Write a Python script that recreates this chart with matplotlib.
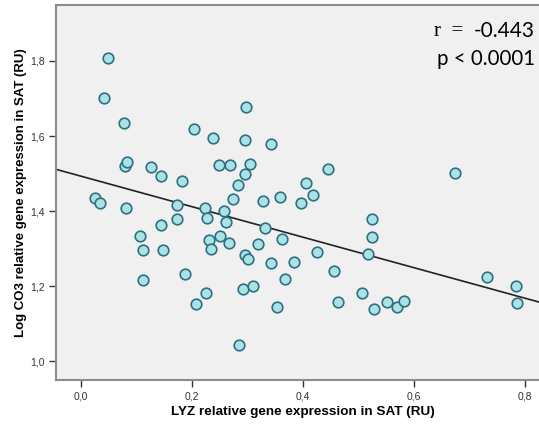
import numpy as np
import matplotlib.pyplot as plt
from matplotlib.ticker import FuncFormatter

# LYZ relative gene expression (x) and Log CO3 relative gene expression (y)
lyz = [0.049, 0.041, 0.078, 0.204, 0.239, 0.297, 0.295, 0.343, 0.079, 0.083,
       0.126, 0.145, 0.183, 0.249, 0.269, 0.305, 0.296, 0.283, 0.275, 0.328,
       0.026, 0.445, 0.406, 0.418, 0.359, 0.397, 0.674, 0.035, 0.081, 0.173,
       0.224, 0.258, 0.227, 0.262, 0.173, 0.144, 0.107, 0.251, 0.267, 0.231,
       0.234, 0.112, 0.148, 0.332, 0.363, 0.319, 0.426, 0.525, 0.525, 0.518,
       0.295, 0.302, 0.343, 0.384, 0.457, 0.368, 0.293, 0.310, 0.353, 0.463,
       0.507, 0.551, 0.528, 0.570, 0.583, 0.732, 0.785, 0.786, 0.112, 0.188,
       0.226, 0.207, 0.285]
co3 = [1.809, 1.700, 1.634, 1.619, 1.595, 1.676, 1.589, 1.578, 1.520, 1.532,
       1.517, 1.493, 1.481, 1.524, 1.524, 1.526, 1.499, 1.469, 1.431, 1.428,
       1.434, 1.511, 1.475, 1.443, 1.438, 1.421, 1.502, 1.421, 1.408, 1.415,
       1.408, 1.400, 1.382, 1.370, 1.378, 1.364, 1.333, 1.333, 1.315, 1.322,
       1.298, 1.295, 1.297, 1.354, 1.325, 1.312, 1.291, 1.378, 1.330, 1.286,
       1.283, 1.273, 1.261, 1.264, 1.240, 1.219, 1.193, 1.200, 1.144, 1.159,
       1.183, 1.159, 1.140, 1.144, 1.161, 1.224, 1.201, 1.155, 1.216, 1.233,
       1.183, 1.152, 1.044]

# fit line as printed
fit_intercept = 1.493
fit_slope = -0.406

r_text = "-0.443"
p_text = "p < 0.0001"

xlim = (-0.045, 0.826)
ylim = (0.950, 1.949)

fig = plt.figure(figsize=(5.39, 4.25), dpi=100)
ax = fig.add_axes([56 / 539, 45 / 425, 483 / 539, 375 / 425])
ax.set_facecolor('#f0f0f0')

ax.scatter(lyz, co3, s=58, facecolor='#aae3e3', edgecolor='#2e6f84',
           linewidth=1.2, zorder=3)

xs = np.array(xlim)
ax.plot(xs, fit_intercept + fit_slope * xs, color='#222222', lw=1.2, zorder=2)

ax.set_xlim(*xlim)
ax.set_ylim(*ylim)
ax.set_xticks([0.0, 0.2, 0.4, 0.6, 0.8])
ax.set_yticks([1.0, 1.2, 1.4, 1.6, 1.8])
comma = FuncFormatter(lambda v, pos: f"{v:.1f}".replace('.', ','))
ax.xaxis.set_major_formatter(comma)
ax.yaxis.set_major_formatter(comma)
ax.tick_params(direction='out', length=5, width=1, color='#333333',
               labelsize=7.5, labelcolor='#333333', pad=3)
for lab in ax.get_xticklabels() + ax.get_yticklabels():
    lab.set_family('Liberation Sans')

for side in ['left', 'top', 'bottom']:
    ax.spines[side].set_color('#8c8c8c')
    ax.spines[side].set_linewidth(1.5)
ax.spines['right'].set_visible(False)

ax.set_xlabel('LYZ relative gene expression in SAT (RU)', family='Liberation Sans',
              fontweight='bold', fontsize=9.7, labelpad=3.5)
ax.xaxis.label.set_x(0.511)
ax.set_ylabel('Log CO3 relative gene expression in SAT (RU)', family='Liberation Sans',
              fontweight='bold', fontsize=9.5, labelpad=2)

t1 = fig.text(535 / 539, 1 - 37 / 425, r_text, ha='right', va='baseline',
              family='Lato', fontsize=15)
ax.annotate('r  =  ', xy=(0, 0), xycoords=t1, ha='right', va='bottom',
            family='Liberation Serif', fontsize=15)
fig.text(535 / 539, 1 - 65 / 425, p_text, ha='right', va='baseline',
         family='Lato', fontsize=14.8)

fig.savefig('out.png', dpi=100)
